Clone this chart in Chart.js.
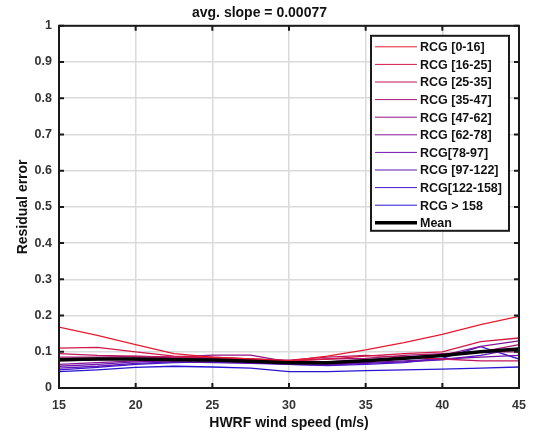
<!DOCTYPE html>
<html><head><meta charset="utf-8">
<script src="https://cdn.jsdelivr.net/npm/chart.js@4.4.0/dist/chart.umd.min.js"></script>
<style>html,body{margin:0;padding:0;background:#fff}#wrap{width:536px;height:436px}</style>
</head><body><div id="wrap"><canvas id="c" width="536" height="436"></canvas></div>
<script>
const windSpeeds = [15, 17.5, 20, 22.5, 25, 27.5, 30, 32.5, 35, 37.5, 40, 42.5, 45];
const xTickValues = [15, 20, 25, 30, 35, 40, 45];
const yTickValues = [0, 0.1, 0.2, 0.3, 0.4, 0.5, 0.6, 0.7, 0.8, 0.9, 1];
const seriesNames = ["RCG [0-16]", "RCG [16-25]", "RCG [25-35]", "RCG [35-47]", "RCG [47-62]", "RCG [62-78]", "RCG[78-97]", "RCG [97-122]", "RCG[122-158]", "RCG > 158", "Mean"];
const rcg0_16    = [0.168, 0.145, 0.120, 0.095, 0.085, 0.080, 0.075, 0.088, 0.105, 0.125, 0.148, 0.175, 0.198];
const rcg16_25   = [0.110, 0.112, 0.100, 0.088, 0.085, 0.080, 0.075, 0.080, 0.088, 0.095, 0.100, 0.128, 0.138];
const rcg25_35   = [0.095, 0.090, 0.088, 0.085, 0.083, 0.080, 0.077, 0.085, 0.090, 0.085, 0.080, 0.075, 0.075];
const rcg35_47   = [0.085, 0.085, 0.087, 0.085, 0.080, 0.078, 0.075, 0.080, 0.082, 0.090, 0.095, 0.100, 0.120];
const rcg47_62   = [0.075, 0.078, 0.082, 0.085, 0.091, 0.091, 0.072, 0.070, 0.075, 0.085, 0.090, 0.100, 0.100];
const rcg62_78   = [0.065, 0.070, 0.075, 0.078, 0.080, 0.078, 0.073, 0.072, 0.078, 0.080, 0.090, 0.115, 0.130];
const rcg78_97   = [0.060, 0.065, 0.072, 0.075, 0.075, 0.072, 0.068, 0.065, 0.070, 0.075, 0.080, 0.085, 0.090];
const rcg97_122  = [0.055, 0.060, 0.068, 0.072, 0.070, 0.068, 0.065, 0.063, 0.068, 0.072, 0.078, 0.090, 0.110];
const rcg122_158 = [0.050, 0.057, 0.065, 0.070, 0.072, 0.070, 0.065, 0.062, 0.065, 0.070, 0.082, 0.114, 0.080];
const rcg158     = [0.045, 0.050, 0.057, 0.060, 0.058, 0.055, 0.045, 0.045, 0.048, 0.050, 0.052, 0.055, 0.058];
const meanValues = [0.078, 0.080, 0.080, 0.078, 0.077, 0.074, 0.070, 0.070, 0.075, 0.082, 0.090, 0.100, 0.108];

const allSeries = [rcg0_16, rcg16_25, rcg25_35, rcg35_47, rcg47_62, rcg62_78, rcg78_97, rcg97_122, rcg122_158, rcg158, meanValues];
const colors = ["rgb(228,26,48)","rgb(210,24,70)","rgb(190,22,92)","rgb(170,20,112)","rgb(150,20,132)","rgb(130,20,150)","rgb(110,20,170)","rgb(90,20,185)","rgb(65,20,200)","rgb(40,20,210)","#000000"];

const FONT = "'Liberation Sans', Arial, Helvetica, sans-serif";

const datasets = allSeries.map((s, i) => ({
  label: seriesNames[i],
  data: s.map((v, j) => ({x: windSpeeds[j], y: v})),
  borderColor: colors[i],
  backgroundColor: colors[i],
  borderWidth: i === allSeries.length - 1 ? 3.5 : 1.3,
  pointRadius: 0,
  tension: 0,
  fill: false,
  order: i === allSeries.length - 1 ? 0 : 1
}));

const boxPlugin = {
  id: 'boxPlugin',
  afterDraw(chart) {
    const ctx = chart.ctx;
    const a = chart.chartArea;
    const xs = chart.scales.x, ys = chart.scales.y;
    ctx.save();
    ctx.strokeStyle = '#1a1a1a';
    ctx.lineWidth = 2;
    ctx.beginPath();
    xTickValues.forEach(v => {
      const p = xs.getPixelForValue(v);
      ctx.moveTo(p, a.bottom); ctx.lineTo(p, a.bottom - 5);
      ctx.moveTo(p, a.top); ctx.lineTo(p, a.top + 5);
    });
    yTickValues.forEach(v => {
      const p = ys.getPixelForValue(v);
      ctx.moveTo(a.left, p); ctx.lineTo(a.left + 5, p);
      ctx.moveTo(a.right, p); ctx.lineTo(a.right - 5, p);
    });
    ctx.stroke();
    ctx.strokeRect(a.left, a.top, a.right - a.left, a.bottom - a.top);

    // legend
    const lw = 138, lh = 195;
    const lx = a.right - 10 - lw, ly = a.top + 10;
    ctx.fillStyle = '#fff';
    ctx.fillRect(lx, ly, lw, lh);
    ctx.strokeStyle = '#1a1a1a';
    ctx.lineWidth = 2;
    ctx.strokeRect(lx, ly, lw, lh);
    ctx.font = "bold 12.5px " + FONT;
    ctx.textBaseline = 'middle';
    ctx.textAlign = 'left';
    chart.data.datasets.forEach((d, i) => {
      const y = ly + 11 + i * 17.6;
      ctx.strokeStyle = d.borderColor;
      ctx.lineWidth = d.borderWidth > 2 ? 3.5 : 1;
      ctx.beginPath();
      ctx.moveTo(lx + 4, y); ctx.lineTo(lx + 46, y);
      ctx.stroke();
      ctx.fillStyle = '#111';
      ctx.fillText(d.label, lx + 49, y + 1);
    });
    ctx.restore();
  }
};

new Chart(document.getElementById('c'), {
  type: 'line',
  data: { datasets },
  options: {
    responsive: false,
    animation: false,
    devicePixelRatio: 1,
    layout: { padding: { left: 0, right: 17, top: 0, bottom: 0 } },
    plugins: {
      legend: { display: false },
      tooltip: { enabled: false },
      title: {
        display: true,
        text: 'avg. slope = 0.00077',
        color: '#111',
        font: { family: FONT, size: 14, weight: 'bold' },
        padding: { top: 5, bottom: 4 }
      }
    },
    scales: {
      x: {
        type: 'linear',
        min: 15, max: 45,
        afterBuildTicks: s => { s.ticks = xTickValues.map(v => ({value: v})); },
        afterFit: s => { s.height = 48; },
        ticks: { color: '#333', font: { family: FONT, size: 12.5, weight: 'bold' }, padding: 10, maxRotation: 0, autoSkip: false },
        grid: { color: '#dadada', lineWidth: 1.5, drawTicks: false },
        border: { display: false },
        title: { display: true, text: 'HWRF wind speed (m/s)', color: '#111', font: { family: FONT, size: 14, weight: 'bold' }, padding: { top: 0, bottom: 4.6 } }
      },
      y: {
        type: 'linear',
        min: 0, max: 1,
        afterBuildTicks: s => { s.ticks = yTickValues.map(v => ({value: v})); },
        afterFit: s => { s.width = 59; },
        ticks: { color: '#333', font: { family: FONT, size: 12.5, weight: 'bold' }, padding: 7, autoSkip: false, callback: v => String(v) },
        grid: { color: '#dadada', lineWidth: 1.5, drawTicks: false },
        border: { display: false },
        title: { display: true, text: 'Residual error', color: '#111', font: { family: FONT, size: 14, weight: 'bold' }, padding: { top: 14.6, bottom: 0 } }
      }
    }
  },
  plugins: [boxPlugin]
});
</script>
</body></html>
